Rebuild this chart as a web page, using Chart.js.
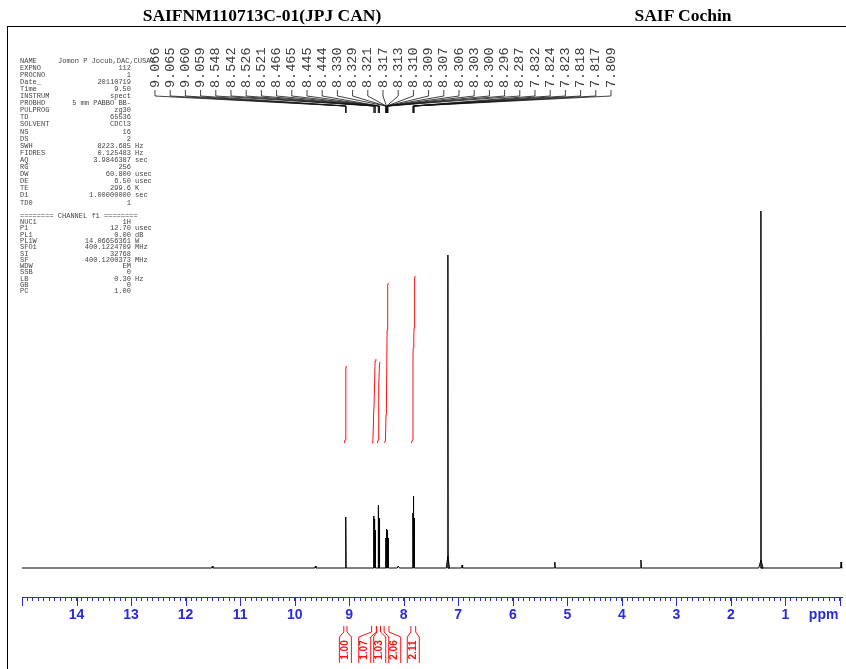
<!DOCTYPE html>
<html>
<head>
<meta charset="utf-8">
<script src="https://cdn.jsdelivr.net/npm/chart.js@4.4.1/dist/chart.umd.min.js"></script>
<style>
  html, body { margin: 0; padding: 0; background: #fff; }
  #wrap { position: relative; width: 846px; height: 669px; overflow: hidden; }
  #chart { position: absolute; left: 0; top: 0; }
  .title { position: absolute; top: 5px; transform: translateX(-50%); font: bold 17.5px 'Liberation Serif', 'Times New Roman', serif; color: #000; white-space: nowrap; }
  .frame-top { position: absolute; left: 7px; top: 26px; width: 839px; border-top: 1.5px solid #000; }
  .frame-left { position: absolute; left: 7px; top: 26px; height: 643px; border-left: 1.5px solid #000; }
  .prow { position: absolute; left: 0; width: 170px; height: 7px; font: 7px 'Liberation Mono', 'DejaVu Sans Mono', monospace; color: #444; white-space: nowrap; }
  .prow span { position: absolute; top: 0; line-height: 7px; }
</style>
</head>
<body>
<div id="wrap">
  <canvas id="chart" width="846" height="669"></canvas>
  <div class="title" style="left:262px">SAIFNM110713C-01(JPJ CAN)</div>
  <div class="title" style="left:683px">SAIF Cochin</div>
  <div class="frame-top"></div>
  <div class="frame-left"></div>
  <div id="params"></div>
</div>
<script>
// spectrum lines: position (ppm), height, half width (ppm)
const peakPpm    = [11.51, 9.62, 9.066, 9.060, 8.548, 8.542, 8.526, 8.521, 8.466, 8.465, 8.445, 8.444,
                    8.330, 8.321, 8.313, 8.307, 8.300, 8.296, 8.287, 8.10, 7.832, 7.824, 7.818, 7.809,
                    7.19, 7.19, 6.93, 5.23, 3.65, 1.45, 1.45, -0.02];
const peakHeight = [2, 2, 51, 49, 52, 49, 38, 35, 63, 62, 50, 48,
                    30, 33, 34, 39, 38, 36, 30, 2, 55, 72, 70, 50,
                    12, 313, 3, 6, 8, 8, 357, 6];
const peakWidth  = [0.01, 0.01, 0.004, 0.004, 0.004, 0.004, 0.004, 0.004, 0.004, 0.004, 0.004, 0.004,
                    0.004, 0.004, 0.004, 0.004, 0.004, 0.004, 0.004, 0.02, 0.004, 0.004, 0.004, 0.004,
                    0.03, 0.004, 0.01, 0.01, 0.01, 0.04, 0.004, 0.01];

// peak pick labels at the top
const peakLabels = ['9.066', '9.065', '9.060', '9.059', '8.548', '8.542', '8.526', '8.521', '8.466', '8.465',
                    '8.445', '8.444', '8.330', '8.329', '8.321', '8.317', '8.313', '8.310', '8.309', '8.307',
                    '8.306', '8.303', '8.300', '8.296', '8.287', '7.832', '7.824', '7.823', '7.818', '7.817', '7.809'];

// integral curves (ppm, value)
const int1Ppm = [9.09, 9.075, 9.062, 9.05];
const int1Val = [125, 128, 200, 202];
const int2Ppm = [8.58, 8.565, 8.55, 8.545, 8.525, 8.51];
const int2Val = [125, 128, 157, 160, 207, 209];
const int3Ppm = [8.485, 8.47, 8.462, 8.455, 8.445, 8.435];
const int3Val = [125, 128, 178, 182, 204, 206];
const int4Ppm = [8.35, 8.335, 8.325, 8.318, 8.305, 8.298, 8.29, 8.28];
const int4Val = [125, 128, 153, 160, 238, 245, 283, 285];
const int5Ppm = [7.86, 7.84, 7.83, 7.825, 7.815, 7.81, 7.80, 7.79];
const int5Val = [125, 128, 213, 220, 233, 240, 290, 292];
const integralLabels = ['1.00', '1.07', '1.03', '2.06', '2.11'];

// x axis
const ppmMin = -0.05;
const ppmMax = 15;
const ppmUnitAt = 0.3;

// acquisition parameters text
const paramNames  = ['NAME', 'EXPNO', 'PROCNO', 'Date_', 'Time', 'INSTRUM', 'PROBHD', 'PULPROG', 'TD', 'SOLVENT',
                     'NS', 'DS', 'SWH', 'FIDRES', 'AQ', 'RG', 'DW', 'DE', 'TE', 'D1', 'TD0'];
const paramValues = ['Jomon P Jocub,DAC,CUSAT', '112', '1', '20110719', '9.50', 'spect', '5 mm PABBO BB-', 'zg30', '65536', 'CDCl3',
                     '16', '2', '8223.685', '0.125483', '3.9846387', '256', '60.800', '6.50', '299.6', '1.00000000', '1'];
const paramUnits  = ['', '', '', '', '', '', '', '', '', '',
                     '', '', 'Hz', 'Hz', 'sec', '', 'usec', 'usec', 'K', 'sec', ''];
const chanNames  = ['NUC1', 'P1', 'PL1', 'PL1W', 'SFO1', 'SI', 'SF', 'WDW', 'SSB', 'LB', 'GB', 'PC'];
const chanValues = ['1H', '12.70', '0.00', '14.06656361', '400.1224709', '32768', '400.1200373', 'EM', '0', '0.30', '0', '1.00'];
const chanUnits  = ['', 'usec', 'dB', 'W', 'MHz', '', 'MHz', '', '', 'Hz', '', ''];

const axisBlue = '#2a2ae0';
const intRed = '#ff1010';

function addRow(y, name, value, unit, leftValue) {
    const row = document.createElement('div');
    row.className = 'prow';
    row.style.top = (y - 3.5) + 'px';
    let html = `<span style="left:20px">${name}</span>`;
    if (value) {
        html += leftValue ? `<span style="left:58px">${value}</span>`
                          : `<span style="right:${170 - 131}px">${value}</span>`;
    }
    if (unit) html += `<span style="left:135px">${unit}</span>`;
    row.innerHTML = html;
    document.getElementById('params').appendChild(row);
}
paramNames.forEach((n, i) => addRow(61 + i * 7.1, n, paramValues[i], paramUnits[i], i === 0));
addRow(216, '======== CHANNEL f1 ========', '', '', false);
chanNames.forEach((n, i) => addRow(222.5 + i * 6.3, n, chanValues[i], chanUnits[i], false));

// build the stick spectrum from the peak list
const order = peakPpm.map((p, i) => i).sort((a, b) => peakPpm[b] - peakPpm[a]);
const specPoints = [{ x: ppmMax, y: 0 }];
order.forEach(i => {
    specPoints.push({ x: peakPpm[i] + peakWidth[i], y: 0 });
    specPoints.push({ x: peakPpm[i], y: peakHeight[i] });
    specPoints.push({ x: peakPpm[i] - peakWidth[i], y: 0 });
});
specPoints.push({ x: ppmMin, y: 0 });

const intPpm = [int1Ppm, int2Ppm, int3Ppm, int4Ppm, int5Ppm];
const intVal = [int1Val, int2Val, int3Val, int4Val, int5Val];
const intDatasets = intPpm.map((pp, k) => ({
    data: pp.map((p, j) => ({ x: p, y: intVal[k][j] })),
    showLine: true, borderColor: intRed, borderWidth: 1, pointRadius: 0, tension: 0
}));

function spreadCenters(xs, gap) {
    let groups = xs.map(x => ({ items: [x], c: x }));
    let merged = true;
    while (merged) {
        merged = false;
        for (let i = 1; i < groups.length; i++) {
            const a = groups[i - 1], b = groups[i];
            const aEnd = a.c + (a.items.length - 1) * gap / 2;
            const bStart = b.c - (b.items.length - 1) * gap / 2;
            if (bStart - aEnd < gap) {
                const items = a.items.concat(b.items);
                const c = items.reduce((s, v) => s + v, 0) / items.length;
                groups.splice(i - 1, 2, { items, c });
                merged = true;
                break;
            }
        }
    }
    const out = [];
    groups.forEach(g => g.items.forEach((_, k) => out.push(g.c + (k - (g.items.length - 1) / 2) * gap)));
    return out;
}

const nmrDecor = {
    id: 'nmrDecor',
    afterDraw(chart) {
        const ctx = chart.ctx, xs = chart.scales.x, area = chart.chartArea;
        ctx.save();

        // longer ticks at whole ppm
        ctx.strokeStyle = axisBlue;
        ctx.lineWidth = 1;
        for (let v = 0; v <= 15; v++) {
            const x = Math.round(xs.getPixelForValue(v)) + 0.5;
            ctx.beginPath();
            ctx.moveTo(x, area.bottom);
            ctx.lineTo(x, area.bottom + 9);
            ctx.stroke();
        }

        // peak labels with connector lines
        const lx0 = 155, lstep = 15.2;
        ctx.font = '13.5px "Liberation Mono", "DejaVu Sans Mono", monospace';
        ctx.fillStyle = '#3a3a3a';
        ctx.strokeStyle = '#111';
        ctx.lineWidth = 0.8;
        peakLabels.forEach((lab, i) => {
            const lx = lx0 + i * lstep;
            const px = xs.getPixelForValue(parseFloat(lab));
            ctx.save();
            ctx.translate(lx, 88);
            ctx.rotate(-Math.PI / 2);
            ctx.textAlign = 'left';
            ctx.textBaseline = 'middle';
            ctx.fillText(lab, 0, 0);
            ctx.restore();
            ctx.beginPath();
            ctx.moveTo(lx, 90);
            ctx.lineTo(lx, 96);
            ctx.lineTo(px, 106);
            ctx.lineTo(px, 113);
            ctx.stroke();
        });

        // integral value boxes under the axis
        const necks = intPpm.map(pp => [xs.getPixelForValue(pp[0]), xs.getPixelForValue(pp[pp.length - 1])]);
        const centers = spreadCenters(necks.map(n => (n[0] + n[1]) / 2), 15);
        ctx.strokeStyle = intRed;
        ctx.fillStyle = intRed;
        ctx.lineWidth = 1;
        ctx.font = 'bold 10px "Liberation Sans", Arial, sans-serif';
        necks.forEach((n, k) => {
            const c = centers[k], hw = 6;
            ctx.beginPath();
            ctx.moveTo(n[0] - 0.5, 626);
            ctx.lineTo(n[0] - 0.5, 632);
            ctx.lineTo(c - hw, 637);
            ctx.lineTo(c - hw, 663);
            ctx.moveTo(n[1] + 0.5, 626);
            ctx.lineTo(n[1] + 0.5, 632);
            ctx.lineTo(c + hw, 637);
            ctx.lineTo(c + hw, 663);
            ctx.stroke();
            ctx.save();
            ctx.translate(c, 650);
            ctx.rotate(-Math.PI / 2);
            ctx.textAlign = 'center';
            ctx.textBaseline = 'middle';
            ctx.fillText(integralLabels[k], 0, 0);
            ctx.restore();
        });
        ctx.restore();
    }
};

new Chart(document.getElementById('chart').getContext('2d'), {
    type: 'scatter',
    data: {
        datasets: [{
            data: specPoints,
            showLine: true, borderColor: '#000', borderWidth: 1, pointRadius: 0, tension: 0
        }].concat(intDatasets)
    },
    options: {
        responsive: false,
        animation: false,
        layout: { padding: { left: 22, right: 3, top: 30, bottom: 0 } },
        plugins: { legend: { display: false }, tooltip: { enabled: false } },
        scales: {
            x: {
                type: 'linear',
                reverse: true,
                min: ppmMin,
                max: ppmMax,
                border: { display: true, color: axisBlue, width: 1 },
                grid: { drawOnChartArea: false, drawTicks: true, tickLength: 4, color: axisBlue, lineWidth: 1 },
                ticks: {
                    stepSize: 0.1,
                    autoSkip: false,
                    includeBounds: false,
                    maxRotation: 0,
                    padding: 6,
                    color: axisBlue,
                    font: { family: '"Liberation Sans Narrow", "Liberation Sans", Arial', size: 14, weight: 'bold' },
                    callback: v => {
                        if (Math.abs(v - ppmUnitAt) < 1e-6) return 'ppm';
                        const r = Math.round(v);
                        return (Math.abs(v - r) < 1e-6 && r >= 1 && r <= 14) ? String(r) : '';
                    }
                },
                afterFit: scale => { scale.height = 72; }
            },
            y: { display: false, min: -29, max: 538 }
        }
    },
    plugins: [nmrDecor]
});
</script>
</body>
</html>
